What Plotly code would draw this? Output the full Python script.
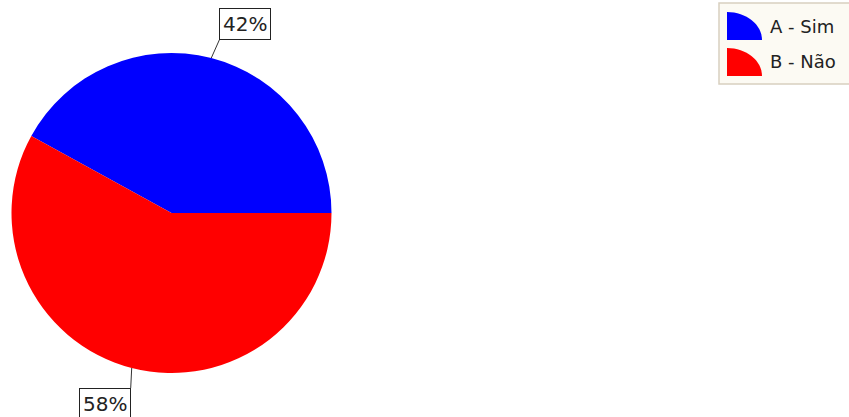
import math
import plotly.graph_objects as go

# ---- data ----
labels = ["A - Sim", "B - Não"]
values = [42, 58]
colors = ["#0000FF", "#FF0000"]

W, H = 849, 417
CX, CY, R = 171.5, 213.0, 160.0  # pie centre / radius in px


def px(x):
    return x / W


def py(y):
    return 1 - y / H


total = sum(values)
# first slice runs counter-clockwise from 3 o'clock
start_rot = 90 - 360 * values[0] / total

fig = go.Figure()
fig.add_trace(go.Pie(
    labels=labels,
    values=values,
    marker=dict(colors=colors, line=dict(width=0)),
    sort=False,
    direction="clockwise",
    rotation=start_rot,
    textinfo="none",
    hoverinfo="label+percent",
    showlegend=False,
    domain=dict(x=[px(CX - R), px(CX + R)], y=[py(CY + R), py(CY - R)]),
))

# ---- percentage call-outs computed from the values ----
offsets = [
    dict(ax=8, ay=-18, xanchor="left", yanchor="bottom"),
    dict(ax=-1, ay=20, xanchor="right", yanchor="top"),
]
cum = 0.0
for i, v in enumerate(values):
    mid = (cum + v / 2) / total * 2 * math.pi
    cum += v
    hx = CX + R * math.cos(mid)
    hy = CY - R * math.sin(mid)
    fig.add_annotation(
        x=px(hx), y=py(hy), xref="paper", yref="paper",
        text=f"{v / total * 100:.0f}%",
        showarrow=True, arrowhead=0, arrowwidth=1, arrowcolor="#333333",
        bordercolor="#222222", borderwidth=1, borderpad=3, bgcolor="white",
        font=dict(family="DejaVu Sans", size=20, color="#222222"),
        **offsets[i],
    )

# ---- custom legend (box + quarter-ellipse icons + labels) ----
fig.add_shape(type="rect", xref="paper", yref="paper",
              x0=px(719), x1=px(860), y0=py(84), y1=py(3),
              fillcolor="#fcfaf3", line=dict(color="#d8d0c0", width=1.5))

icon_x, icon_w, icon_h = 727, 35, 28
k = 0.5523
for i, (lab, col) in enumerate(zip(labels, colors)):
    base = 40 + i * 36
    top = base - icon_h
    path = (f"M {px(icon_x)},{py(base)} L {px(icon_x)},{py(top)} "
            f"C {px(icon_x + k * icon_w)},{py(top)} {px(icon_x + icon_w)},{py(base - k * icon_h)} "
            f"{px(icon_x + icon_w)},{py(base)} Z")
    fig.add_shape(type="path", xref="paper", yref="paper", path=path,
                  fillcolor=col, line=dict(width=0))
    fig.add_annotation(x=px(768), y=py(base - 14), xref="paper", yref="paper",
                       text=lab, showarrow=False, xanchor="left", yanchor="middle",
                       font=dict(family="DejaVu Sans", size=18, color="#222222"))

fig.update_layout(
    width=W, height=H,
    margin=dict(l=0, r=0, t=0, b=0),
    paper_bgcolor="white", plot_bgcolor="white",
    showlegend=False,
)

fig.write_html("out.html",
               config={"displayModeBar": False},
               post_script="document.body.style.margin='0';document.body.style.overflow='hidden';")
